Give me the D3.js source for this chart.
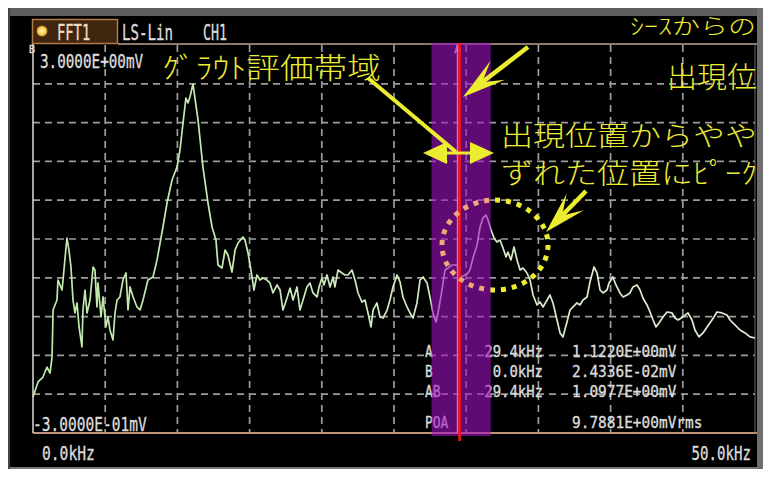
<!DOCTYPE html>
<html>
<head>
<meta charset="utf-8">
<script src="https://cdn.jsdelivr.net/npm/d3@7"></script>
<style>
  html, body { margin: 0; padding: 0; background: #ffffff; overflow: hidden; }
  svg { display: block; }
</style>
</head>
<body>
<svg id="chart" width="763" height="477"></svg>
<script>
// ---- Spectrum trace (frequency in kHz, level in mV) ----
const freqKHz = [0.00,0.35,0.69,0.97,1.18,1.32,1.39,1.66,1.73,2.01,2.08,2.35,2.49,2.63,2.77,2.91,3.05,3.19,3.39,3.46,3.60,3.74,3.95,4.16,4.29,4.43,4.50,4.71,4.85,5.05,5.19,5.33,5.54,5.68,5.82,6.02,6.23,6.44,6.58,6.72,6.93,7.20,7.41,7.62,7.96,8.31,8.59,8.80,9.00,9.28,9.63,9.97,10.18,10.39,10.59,10.73,10.87,11.08,11.43,11.77,12.12,12.40,12.67,12.81,13.09,13.30,13.50,13.78,13.99,14.20,14.54,14.68,14.89,15.17,15.30,15.51,15.72,15.93,16.20,16.41,16.62,16.90,17.11,17.31,17.59,17.80,18.01,18.28,18.49,18.70,18.97,19.18,19.39,19.67,19.81,20.01,20.15,20.36,20.57,20.78,20.91,21.12,21.40,21.61,21.81,22.09,22.30,22.51,22.78,22.99,23.20,23.41,23.55,23.82,24.03,24.24,24.52,24.72,24.93,25.21,25.42,25.62,25.90,26.11,26.32,26.59,26.80,27.01,27.29,27.49,27.70,27.91,28.05,28.32,28.53,28.74,29.02,29.22,29.40,29.57,29.78,30.06,30.26,30.47,30.75,30.96,31.16,31.37,31.51,31.72,31.93,32.13,32.34,32.55,32.76,32.89,33.10,33.31,33.52,33.73,33.93,34.21,34.42,34.63,34.90,35.11,35.32,35.60,35.80,36.01,36.29,36.50,36.70,36.98,37.19,37.40,37.67,37.88,38.09,38.37,38.57,38.85,39.06,39.27,39.47,39.75,39.89,40.16,40.37,40.65,40.86,41.14,41.34,41.55,41.83,42.04,42.24,42.52,42.73,42.94,43.14,43.35,43.63,43.91,44.25,44.46,44.67,45.01,45.36,45.64,45.84,46.12,46.40,46.68,47.02,47.37,47.71,48.06,48.27,48.61,48.96,49.31,49.65,50.00];
const levelMV = [0.006,0.134,0.176,0.261,0.210,0.346,0.746,0.831,1.001,0.916,1.001,1.358,1.256,1.112,0.831,0.721,0.806,0.602,0.432,0.746,0.916,0.721,0.831,1.112,1.086,0.772,0.976,0.687,0.857,0.602,0.687,0.576,0.491,0.721,0.831,0.857,1.001,1.061,0.746,0.942,0.857,0.772,0.746,0.831,1.001,1.027,1.172,1.316,1.452,1.656,1.852,1.962,2.107,2.337,2.549,2.507,2.558,2.668,2.362,1.962,1.656,1.452,1.341,1.129,1.103,1.256,1.214,1.069,1.256,1.316,1.367,1.341,1.231,1.027,0.916,1.044,1.001,1.018,1.001,0.976,0.891,0.959,0.916,0.746,0.848,0.933,0.831,0.942,0.746,0.831,0.942,0.976,0.891,0.857,0.942,1.018,0.959,1.044,0.942,1.027,0.942,1.086,1.061,1.044,1.044,1.086,1.001,0.891,0.814,0.831,0.721,0.602,0.746,0.806,0.687,0.678,0.746,0.831,0.942,1.044,0.984,0.857,0.772,0.721,0.678,0.806,1.001,1.027,0.976,0.857,0.721,0.644,0.721,0.916,1.086,1.103,1.129,1.129,1.122,1.027,1.035,1.052,1.086,1.188,1.299,1.452,1.529,1.554,1.512,1.427,1.358,1.324,1.341,1.273,1.197,1.239,1.172,1.282,1.172,1.086,1.103,1.061,1.001,0.874,0.789,0.814,0.772,0.831,0.874,0.806,0.661,0.551,0.517,0.644,0.746,0.772,0.806,0.789,0.831,0.857,0.984,1.112,1.061,0.916,0.891,0.916,0.976,1.027,0.959,0.891,0.857,0.874,0.891,0.942,0.959,0.916,0.848,0.789,0.729,0.661,0.602,0.636,0.687,0.729,0.721,0.678,0.661,0.687,0.721,0.661,0.576,0.517,0.551,0.602,0.661,0.729,0.721,0.704,0.661,0.619,0.576,0.551,0.517,0.508];

// ---- Axis ranges, cursors and evaluation band ----
const freqRange = [0, 50];
const levelRange = [-0.3, 3.0];
const gridDivisions = 10;
const cursorAKHz = 29.4;
const cursorBKHz = 0.0;
const bandKHz = [27.6, 31.7];

// ---- Screen texts ----
const headerLabels = ["FFT1", "LS-Lin", "CH1"];
const levelLabels = ["3.0000E+00mV", "-3.0000E-01mV"];
const freqLabels = ["0.0kHz", "50.0kHz"];
const readoutNames = ["A", "B", "AB", "POA"];
const readoutFreqs = ["29.4kHz", "0.0kHz", "29.4kHz", ""];
const readoutLevels = ["1.1220E+00mV", "2.4336E-02mV", "1.0977E+00mV", "9.7881E+00mVrms"];
const noteTexts = ["ｸﾞﾗｳﾄ評価帯域", "ｼｰｽからの", "出現位", "出現位置からやや", "ずれた位置にﾋﾟｰｸ"];

// ---- Drawing ----
const svg = d3.select("#chart");
const W = 763, H = 477;
const plot = { left: 33, right: 755, top: 45, bottom: 433 };

const x = d3.scaleLinear().domain(freqRange).range([plot.left, plot.right]);
const y = d3.scaleLinear().domain(levelRange).range([plot.bottom, plot.top]);

const MONO = "'DejaVu Sans Mono', monospace";
const MONO_ADV = 0.602;            // advance width of DejaVu Sans Mono, in em
const JP = "'Noto Sans CJK JP', sans-serif";
const YELLOW = "#ecec30";

const defs = svg.append("defs");

// trace colour fades from green to a paler tint across the span
const grad = defs.append("linearGradient").attr("id", "traceGrad")
  .attr("gradientUnits", "userSpaceOnUse")
  .attr("x1", plot.left).attr("x2", plot.right).attr("y1", 0).attr("y2", 0);
grad.append("stop").attr("offset", "0%").attr("stop-color", "#bfe8a8");
grad.append("stop").attr("offset", "100%").attr("stop-color", "#dfeed8");

const led = defs.append("radialGradient").attr("id", "ledGrad");
led.append("stop").attr("offset", "0%").attr("stop-color", "#fff6c0");
led.append("stop").attr("offset", "70%").attr("stop-color", "#f4cc50");
led.append("stop").attr("offset", "100%").attr("stop-color", "#b07818");

const bandX0 = x(bandKHz[0]), bandX1 = x(bandKHz[1]);
defs.append("clipPath").attr("id", "inBand")
  .append("rect").attr("x", bandX0).attr("y", 0).attr("width", bandX1 - bandX0).attr("height", H);
const outClip = defs.append("clipPath").attr("id", "outBand");
outClip.append("rect").attr("x", 0).attr("y", 0).attr("width", bandX0).attr("height", H);
outClip.append("rect").attr("x", bandX1).attr("y", 0).attr("width", W - bandX1).attr("height", H);

// instrument screen
svg.append("rect").attr("x", 0).attr("y", 0).attr("width", W).attr("height", H).attr("fill", "#ffffff");
svg.append("rect").attr("x", 8).attr("y", 8).attr("width", 752).attr("height", 461).attr("fill", "#000000");
svg.append("rect").attr("x", 8).attr("y", 8).attr("width", 752).attr("height", 8).attr("fill", "#5e5e5e");
svg.append("rect").attr("x", 8).attr("y", 467).attr("width", 752).attr("height", 2).attr("fill", "#777777");
svg.append("rect").attr("x", 8).attr("y", 8).attr("width", 2).attr("height", 461).attr("fill", "#444444");

// condensed monospace text: glyphs squeezed horizontally to a given cell width
function mono(g, str, px, py, size, charW, anchor, fill) {
  if (!str) return null;
  const sx = charW / (MONO_ADV * size);
  const col = fill || "#dcdcdc";
  return g.append("text")
    .attr("transform", `translate(${px},${py}) scale(${sx},1)`)
    .attr("font-family", MONO).attr("font-size", size)
    .attr("text-anchor", anchor || "start")
    .attr("fill", col).attr("stroke", col).attr("stroke-width", 0.35)
    .text(str);
}

// header
const header = svg.append("g");
header.append("rect").attr("x", 32.5).attr("y", 19.5).attr("width", 85).attr("height", 24)
  .attr("fill", "#40250f").attr("stroke", "#b07a4a").attr("stroke-width", 1.5);
header.append("circle").attr("cx", 42).attr("cy", 31).attr("r", 5.5).attr("fill", "url(#ledGrad)");
mono(header, headerLabels[0], 57, 40, 22, 8.3, "start", "#f2dcc4");
mono(header, headerLabels[1], 122, 40, 22, 8.5, "start");
mono(header, headerLabels[2], 203, 40, 22, 8.0, "start");

// dashed grid
const grid = svg.append("g").attr("stroke", "#9c9c9c").attr("stroke-width", 1.7)
  .attr("stroke-dasharray", "7 5");
const fStep = (freqRange[1] - freqRange[0]) / gridDivisions;
const lStep = (levelRange[1] - levelRange[0]) / gridDivisions;
grid.selectAll("line.v").data(d3.range(1, gridDivisions).map(i => freqRange[0] + i * fStep))
  .join("line").attr("class", "v")
  .attr("x1", d => x(d)).attr("x2", d => x(d))
  .attr("y1", plot.top).attr("y2", plot.bottom);
grid.selectAll("line.h").data(d3.range(1, gridDivisions).map(i => levelRange[0] + i * lStep))
  .join("line").attr("class", "h")
  .attr("x1", plot.left).attr("x2", plot.right)
  .attr("y1", d => y(d)).attr("y2", d => y(d));

// frame of the plot area
svg.append("line").attr("x1", 118).attr("x2", plot.right + 2).attr("y1", 44).attr("y2", 44)
  .attr("stroke", "#8c7c6c").attr("stroke-width", 2);
svg.append("line").attr("x1", plot.left).attr("x2", 758).attr("y1", plot.bottom).attr("y2", plot.bottom)
  .attr("stroke", "#c49276").attr("stroke-width", 2);
svg.append("line").attr("x1", plot.right).attr("x2", plot.right).attr("y1", plot.top).attr("y2", plot.bottom)
  .attr("stroke", "#6a6a6a").attr("stroke-width", 1);
// cursor B sits on 0 kHz
svg.append("line").attr("x1", x(cursorBKHz)).attr("x2", x(cursorBKHz)).attr("y1", plot.top - 1).attr("y2", plot.bottom)
  .attr("stroke", "#d0d0d0").attr("stroke-width", 1.6);
mono(svg, "B", 29, 53, 11, 6, "start", "#e0e0e0");

// scale labels
mono(svg, levelLabels[0], 40, 68, 20, 8.6, "start");
mono(svg, levelLabels[1], 33, 431, 20, 8.75, "start");
mono(svg, freqLabels[0], 42, 460, 20, 8.8, "start");
mono(svg, freqLabels[1], 751, 460, 20, 8.5, "end");

// cursor readouts
const rowY = [357, 377, 397, 428];
readoutNames.forEach((n, i) => {
  mono(svg, n, 425, rowY[i], 16.5, 7.8, "start");
  mono(svg, readoutFreqs[i], 543, rowY[i], 16.5, 8.4, "end");
  mono(svg, readoutLevels[i], 572, rowY[i], 16.5, 8.7, "start");
});

// spectrum trace
const line = d3.line().x(d => x(d[0])).y(d => y(d[1]));
svg.append("path").datum(d3.zip(freqKHz, levelMV))
  .attr("d", line).attr("fill", "none")
  .attr("stroke", "url(#traceGrad)").attr("stroke-width", 1.7)
  .attr("stroke-linejoin", "round");

// cursor A
svg.append("line").attr("x1", x(cursorAKHz)).attr("x2", x(cursorAKHz)).attr("y1", plot.top).attr("y2", plot.bottom)
  .attr("stroke", "#ffffff").attr("stroke-width", 1.5);
mono(svg, "A", x(cursorAKHz) - 3, 53, 10, 6, "start", "#ffffff");

// evaluation band overlay
svg.append("rect").attr("x", bandX0).attr("y", 43).attr("width", bandX1 - bandX0).attr("height", 393)
  .attr("fill", "#a010c0").attr("opacity", 0.6);

// red marker on cursor A
svg.append("line").attr("x1", x(cursorAKHz) + 2).attr("x2", x(cursorAKHz) + 2).attr("y1", 43).attr("y2", 441)
  .attr("stroke", "#ff1414").attr("stroke-width", 2.6);

// dotted ring around the shifted peak
const ring = { cx: 495, cy: 245, rx: 53, ry: 45 };
[["outBand", YELLOW], ["inBand", "#f2a67a"]].forEach(([clip, col]) => {
  svg.append("ellipse").attr("cx", ring.cx).attr("cy", ring.cy).attr("rx", ring.rx).attr("ry", ring.ry)
    .attr("fill", "none").attr("stroke", col).attr("stroke-width", 5)
    .attr("stroke-dasharray", "5 6").attr("clip-path", `url(#${clip})`);
});

// annotation arrows
const ann = svg.append("g").attr("fill", YELLOW).attr("stroke", YELLOW);

function notchedArrow(tip, tail, L, Hw, shaftW) {
  const dx = tail[0] - tip[0], dy = tail[1] - tip[1];
  const len = Math.hypot(dx, dy);
  const u = [dx / len, dy / len], n = [-u[1], u[0]];
  ann.append("line").attr("x1", tail[0]).attr("y1", tail[1])
    .attr("x2", tip[0] + u[0] * L * 0.5).attr("y2", tip[1] + u[1] * L * 0.5)
    .attr("stroke-width", shaftW);
  const p = [
    tip,
    [tip[0] + u[0] * L + n[0] * Hw, tip[1] + u[1] * L + n[1] * Hw],
    [tip[0] + u[0] * L * 0.55, tip[1] + u[1] * L * 0.55],
    [tip[0] + u[0] * L - n[0] * Hw, tip[1] + u[1] * L - n[1] * Hw]
  ];
  ann.append("path").attr("d", "M" + p.map(q => q.join(",")).join("L") + "Z").attr("stroke", "none");
}

// leader from the band caption to the band
ann.append("line").attr("x1", 368).attr("y1", 78).attr("x2", 456).attr("y2", 152)
  .attr("stroke-width", 4);
// double-headed width arrow across the band
const dY = 153;
ann.append("line").attr("x1", 444).attr("x2", 472).attr("y1", dY).attr("y2", dY).attr("stroke-width", 3);
ann.append("path").attr("stroke", "none")
  .attr("d", `M423,${dY}L447,${dY - 11}L447,${dY + 11}Z`);
ann.append("path").attr("stroke", "none")
  .attr("d", `M494,${dY}L470,${dY - 11}L470,${dY + 11}Z`);
// arrows to the cursor and to the ring
notchedArrow([463, 97], [528, 47], 44, 12, 4.5);
notchedArrow([546, 232], [586, 191], 42, 12, 4.5);

// annotation captions
function note(str, px, py, size, width) {
  svg.append("text").attr("x", px).attr("y", py)
    .attr("font-family", JP).attr("font-size", size).attr("font-weight", 300)
    .attr("fill", YELLOW)
    .attr("textLength", width).attr("lengthAdjust", "spacingAndGlyphs")
    .text(str);
}
note(noteTexts[0], 162, 79, 29, 219);
note(noteTexts[1], 630, 34, 22, 126);
note(noteTexts[2], 667, 88, 29, 90);
note(noteTexts[3], 501, 146, 27, 256);
note(noteTexts[4], 501, 184, 28, 256);

// right edge of the screen bezel
svg.append("rect").attr("x", 757).attr("y", 8).attr("width", 6).attr("height", 461).attr("fill", "#6e6e6e");
</script>
</body>
</html>
